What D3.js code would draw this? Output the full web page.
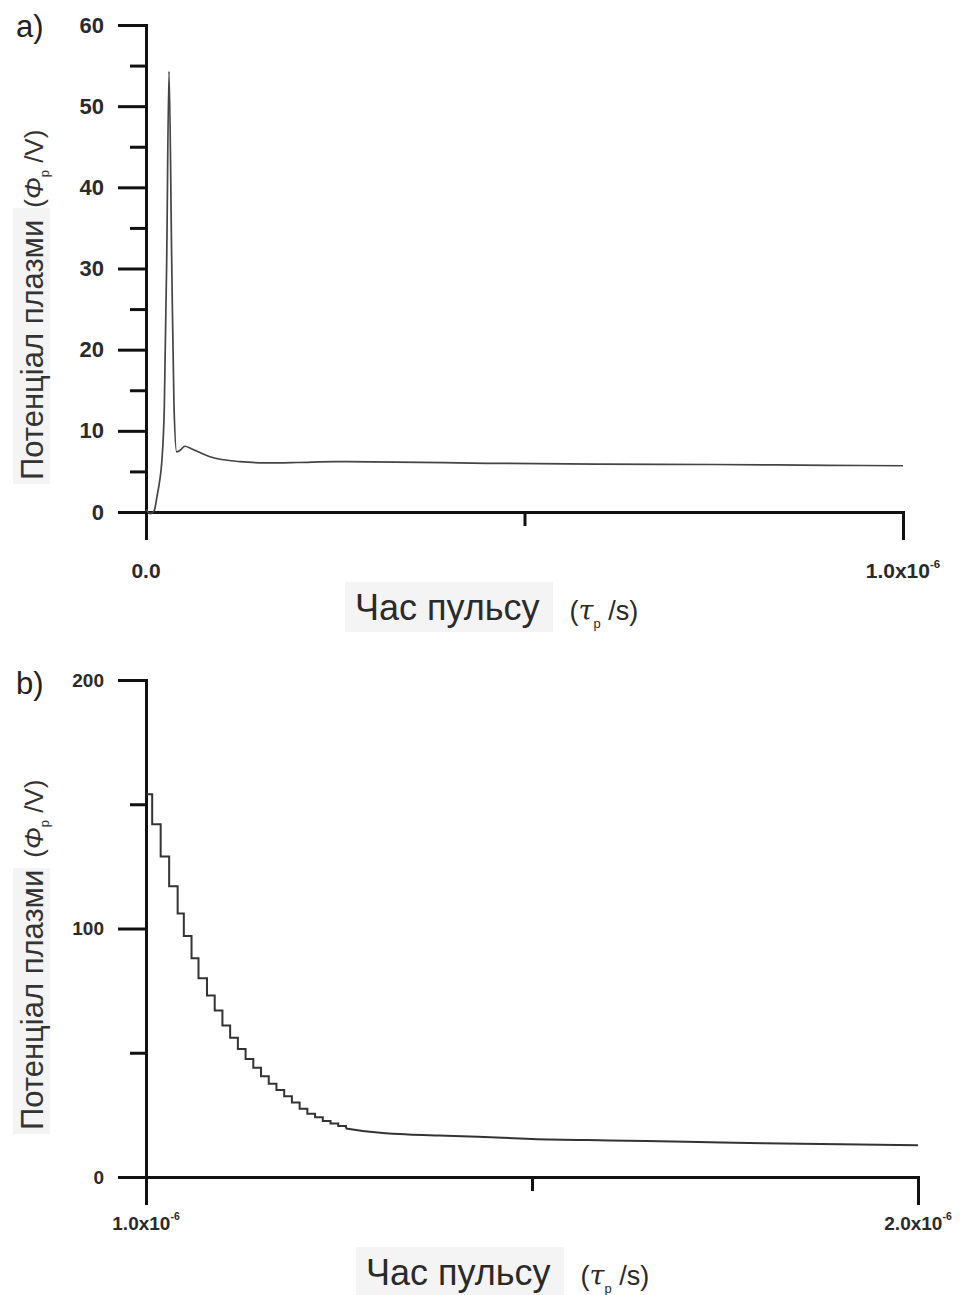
<!DOCTYPE html>
<html>
<head>
<meta charset="utf-8">
<script src="https://cdn.jsdelivr.net/npm/d3@7"></script>
<style>
  body { margin: 0; background: #fff; }
  svg { display: block; font-family: "Liberation Sans", Arial, sans-serif; }
</style>
</head>
<body>
<svg id="chart" width="960" height="1295"></svg>
<script>
// panel a: time in units of 1e-6 s, potential in V
let timeA = [0, 0.006, 0.011, 0.0145, 0.018, 0.0207, 0.0242, 0.0273, 0.0304, 0.034, 0.037, 0.0405,
  0.045, 0.0515, 0.06, 0.0845, 0.124, 0.16, 0.2, 0.25, 0.33, 0.45, 0.6, 0.75, 0.9, 1.0];
let potA = [0.3, -0.2, 0.2, 1.9, 3.8, 6, 13, 30.7, 54.3, 30.7, 13, 7.4,
  7.6, 8.1, 7.8, 6.8, 6.2, 6.05, 6.1, 6.2, 6.15, 6.0, 5.9, 5.85, 5.75, 5.7];

// panel b: staircase part, then smooth tail
let stepTimeB = [1.000, 1.008, 1.019, 1.030, 1.041, 1.049, 1.059, 1.068, 1.079, 1.089, 1.099, 1.109,
  1.119, 1.129, 1.139, 1.149, 1.159, 1.169, 1.179, 1.189, 1.199, 1.209, 1.219, 1.229, 1.239, 1.249, 1.259];
let stepPotB = [154, 142, 129, 117, 106, 97, 88, 80, 73, 67, 61, 56,
  51.5, 47.5, 44, 40.5, 37.5, 35, 32.5, 30, 27.5, 25.5, 24, 22.5, 21.5, 20.5, 19.5];
let tailTimeB = [1.259, 1.27, 1.29, 1.31, 1.34, 1.38, 1.43, 1.5, 1.6, 1.7, 1.8, 1.9, 2.0];
let tailPotB = [19.5, 19, 18.2, 17.6, 17.1, 16.7, 16.2, 15.3, 14.7, 14.2, 13.6, 13.2, 12.8];

let yMajorA = [0, 10, 20, 30, 40, 50, 60];
let yMinorA = [5, 15, 25, 35, 45, 55];
let xMajorA = [0, 1];
let xMinorA = [0.5];
let xLabelsA = [['0.0', ''], ['1.0x10', '-6']];

let yMajorB = [0, 100, 200];
let yMinorB = [50, 150];
let xMajorB = [1, 2];
let xMinorB = [1.5];
let xLabelsB = [['1.0x10', '-6'], ['2.0x10', '-6']];

let svg = d3.select('#chart');

let xA = d3.scaleLinear().domain([0, 1]).range([146, 903]);
let yA = d3.scaleLinear().domain([0, 60]).range([512, 25]);
let xB = d3.scaleLinear().domain([1, 2]).range([146, 918]);
let yB = d3.scaleLinear().domain([0, 200]).range([1177, 680]);

function drawAxes(x, y, yMajor, yMinor, xMajor, xMinor, xLabels, yFont, xFont, xLabelY) {
  let g = svg.append('g');

  // minor ticks first
  g.append('g')
    .attr('transform', 'translate(' + x.range()[0] + ',0)')
    .call(d3.axisLeft(y).tickValues(yMinor).tickSize(16).tickFormat(''));
  g.append('g')
    .attr('transform', 'translate(0,' + y(y.domain()[0]) + ')')
    .call(d3.axisBottom(x).tickValues(xMinor).tickSize(14).tickFormat(''));

  let yAx = g.append('g')
    .attr('transform', 'translate(' + x.range()[0] + ',0)')
    .call(d3.axisLeft(y).tickValues(yMajor).tickSize(28).tickSizeOuter(0).tickPadding(14));
  yAx.selectAll('text')
    .attr('font-size', yFont)
    .attr('font-weight', 'bold')
    .attr('fill', '#2a2a2a')
    .attr('font-family', '"Liberation Sans", Arial, sans-serif');

  g.append('g')
    .attr('transform', 'translate(0,' + y(y.domain()[0]) + ')')
    .call(d3.axisBottom(x).tickValues(xMajor).tickSize(28).tickSizeOuter(0).tickFormat(''));

  g.selectAll('.domain, .tick line')
    .attr('stroke', '#111')
    .attr('stroke-width', 3);
  g.selectAll('.domain').attr('stroke-linecap', 'square');

  // x tick labels with superscript exponent
  xMajor.forEach(function(v, i) {
    let t = g.append('text')
      .attr('x', x(v))
      .attr('y', xLabelY)
      .attr('text-anchor', 'middle')
      .attr('font-size', xFont)
      .attr('font-weight', 'bold')
      .attr('fill', '#2a2a2a');
    t.append('tspan').text(xLabels[i][0]);
    if (xLabels[i][1]) {
      t.append('tspan')
        .attr('dy', -10)
        .attr('font-size', xFont * 0.55)
        .text(xLabels[i][1]);
    }
  });
}

function drawYTitle(xBase, yBottom, boxTop) {
  svg.append('rect')
    .attr('x', xBase - 30).attr('y', boxTop)
    .attr('width', 37).attr('height', yBottom - boxTop + 4)
    .attr('fill', '#f4f4f4');
  let t = svg.append('text')
    .attr('transform', 'translate(' + xBase + ',' + yBottom + ') rotate(-90)')
    .attr('fill', '#333')
    .attr('font-size', 31);
  t.append('tspan').text('Потенціал плазми');
  t.append('tspan').attr('dx', 12).attr('font-size', 26).text('(');
  t.append('tspan').attr('font-size', 26).attr('font-style', 'italic').text('Φ');
  t.append('tspan').attr('font-size', 13).attr('dy', 6).text('p');
  t.append('tspan').attr('font-size', 26).attr('dy', -6).text(' /V)');
}

function drawXTitle(xStart, baseline) {
  svg.append('rect')
    .attr('x', xStart - 10).attr('y', baseline - 38)
    .attr('width', 208).attr('height', 50)
    .attr('fill', '#f4f4f4');
  let t = svg.append('text')
    .attr('x', xStart).attr('y', baseline)
    .attr('fill', '#2a2a2a')
    .attr('font-size', 36);
  t.append('tspan').text('Час пульсу');
  t.append('tspan').attr('dx', 30).attr('font-size', 27).text('(');
  t.append('tspan').attr('font-size', 27).attr('font-style', 'italic').attr('font-family', '"DejaVu Serif", serif').text('τ');
  t.append('tspan').attr('font-size', 13).attr('dy', 8).text('p');
  t.append('tspan').attr('font-size', 27).attr('dy', -8).text(' /s)');
}

// ---- panel a ----
drawYTitle(43, 480, 208);
drawXTitle(355, 620);
drawAxes(xA, yA, yMajorA, yMinorA, xMajorA, xMinorA, xLabelsA, 22, 21, 578);

let lineA = d3.line()
  .x(function(d, i) { return xA(timeA[i]); })
  .y(function(d) { return yA(d); })
  .curve(d3.curveMonotoneX);
svg.append('path')
  .attr('d', lineA(potA))
  .attr('fill', 'none')
  .attr('stroke', '#444')
  .attr('stroke-width', 1.7);

svg.append('text').attr('x', 16).attr('y', 37).attr('font-size', 31).attr('fill', '#222').text('a)');

// ---- panel b ----
drawYTitle(43, 1130, 868);
drawXTitle(366, 1285);
drawAxes(xB, yB, yMajorB, yMinorB, xMajorB, xMinorB, xLabelsB, 19, 19, 1230);

let stepLine = d3.line()
  .x(function(d, i) { return xB(stepTimeB[i]); })
  .y(function(d) { return yB(d); })
  .curve(d3.curveStepAfter);
let tailLine = d3.line()
  .x(function(d, i) { return xB(tailTimeB[i]); })
  .y(function(d) { return yB(d); })
  .curve(d3.curveMonotoneX);

svg.append('path')
  .attr('d', stepLine(stepPotB))
  .attr('fill', 'none')
  .attr('stroke', '#333')
  .attr('stroke-width', 2);
svg.append('path')
  .attr('d', tailLine(tailPotB))
  .attr('fill', 'none')
  .attr('stroke', '#333')
  .attr('stroke-width', 2);

svg.append('text').attr('x', 16).attr('y', 694).attr('font-size', 31).attr('fill', '#222').text('b)');
</script>
</body>
</html>
